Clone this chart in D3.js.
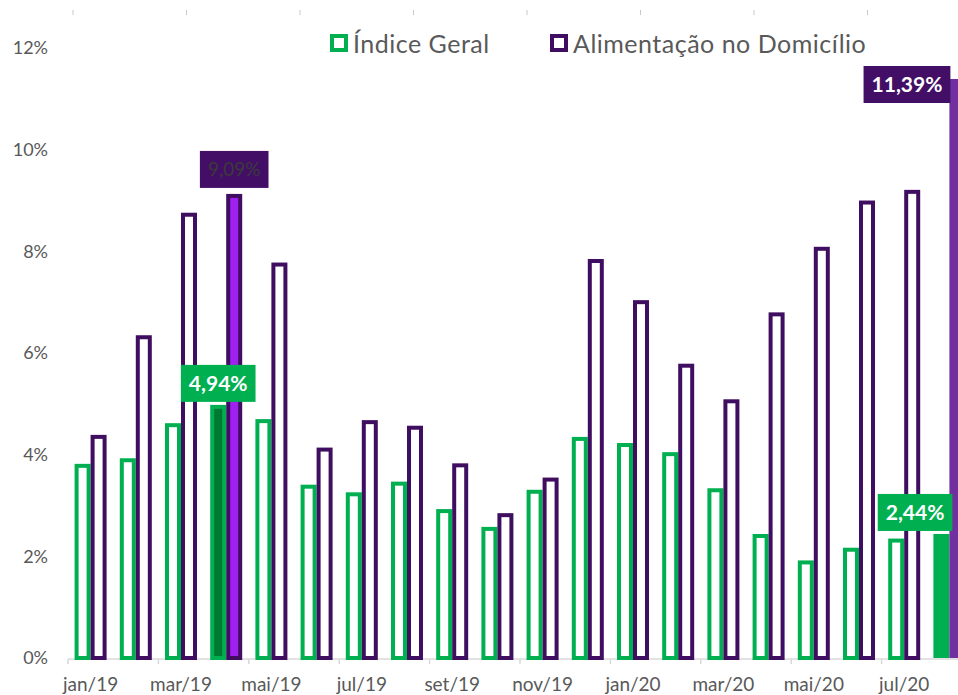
<!DOCTYPE html>
<html><head><meta charset="utf-8">
<script src="https://cdn.jsdelivr.net/npm/d3@7"></script>
<style>body{margin:0;background:#fff;overflow:hidden} svg{display:block}</style>
</head><body>
<svg id="chart" width="958" height="695"></svg>
<script>
const months = ["jan/19","fev/19","mar/19","abr/19","mai/19","jun/19","jul/19","ago/19","set/19","out/19","nov/19","dez/19",
                "jan/20","fev/20","mar/20","abr/20","mai/20","jun/20","jul/20","ago/20"];
const geral = [3.78,3.89,4.58,4.94,4.66,3.37,3.22,3.43,2.89,2.54,3.27,4.31,4.19,4.01,3.30,2.40,1.88,2.13,2.31,2.44];
const alimentacao = [4.35,6.31,8.72,9.09,7.74,4.10,4.64,4.53,3.79,2.81,3.51,7.81,7.00,5.75,5.05,6.76,8.05,8.96,9.17,11.39];
const seriesNames = ["Índice Geral","Alimentação no Domicílio"];
const yTicks = [0,2,4,6,8,10,12];
const topTicks = [0,1,2,3,4,5,6,7,8];

const GREEN = "#00B050", PURPLE = "#400E60";
const svg = d3.select("#chart");
const font = "Lato, 'Open Sans', sans-serif";
const fmt = v => d3.format(".2f")(v).replace(".", ",") + "%";

const x = d3.scaleBand().domain(months).range([68, 972]).paddingInner(0.292).paddingOuter(0.146);
const xs = d3.scaleBand().domain(seriesNames).range([0, x.bandwidth()]);
const y = d3.scaleLinear().domain([0, 12]).range([658, 48]);
const xCat = d3.scaleBand().domain(months).range([68, 972]);
const xTop = d3.scaleLinear().domain([0, 8]).range([73, 981]);

// top decorative ticks
svg.append("g").selectAll("line").data(topTicks).join("line")
  .attr("x1", d => xTop(d)).attr("x2", d => xTop(d)).attr("y1", 10).attr("y2", 15)
  .attr("stroke", "#C8C8C8").attr("stroke-width", 1);

// y axis labels
svg.append("g").selectAll("text").data(yTicks).join("text")
  .attr("x", 48).attr("y", d => y(d)).attr("dy", "0.35em")
  .attr("text-anchor", "end").attr("font-family", font).attr("font-size", 18)
  .attr("fill", "#595959").text(d => d + "%");

// x axis
const axisY = 659;
svg.append("line").attr("x1", 68).attr("x2", 972).attr("y1", axisY).attr("y2", axisY)
  .attr("stroke", "#D9D9D9").attr("stroke-width", 1.5);
svg.append("g").selectAll("line").data(months.filter((d, i) => i % 2 === 0).concat(["__end"])).join("line")
  .attr("x1", d => d === "__end" ? 972 : xCat(d)).attr("x2", d => d === "__end" ? 972 : xCat(d))
  .attr("y1", axisY).attr("y2", axisY + 5).attr("stroke", "#D9D9D9").attr("stroke-width", 1.5);
svg.append("g").selectAll("text").data(months.filter((d, i) => i % 2 === 0)).join("text")
  .attr("x", d => xCat(d) + xCat.bandwidth() / 2).attr("y", 691)
  .attr("text-anchor", "middle").attr("font-family", font).attr("font-size", 19)
  .attr("fill", "#595959").text(d => d);

// bars
const rows = months.map((m, i) => ({m, i, vals: [geral[i], alimentacao[i]]}));
const last = months.length - 1;
const special = 3;
const g = svg.append("g");
rows.forEach(r => {
  r.vals.forEach((v, s) => {
    const bx = x(r.m) + xs(seriesNames[s]);
    const bw = xs.bandwidth();
    if (r.i === last) {
      g.append("rect").attr("x", bx).attr("width", bw).attr("y", y(v)).attr("height", y(0) - y(v))
        .attr("fill", s === 0 ? GREEN : "#7030A0");
    } else {
      let fill = "#fff";
      if (r.i === special) fill = s === 0 ? "#007A33" : "#A020F0";
      g.append("rect").attr("x", bx + 2).attr("width", bw - 4).attr("y", y(v)).attr("height", y(0) - y(v))
        .attr("fill", fill).attr("stroke", s === 0 ? GREEN : PURPLE).attr("stroke-width", 4);
    }
  });
});

// data label boxes
function labelBox(cx, anchor, yBottom, txt, bg, color, weight, size) {
  const grp = svg.append("g");
  const t = grp.append("text").attr("font-family", font).attr("font-size", size)
    .attr("font-weight", weight).attr("fill", color).text(txt);
  const w = t.node().getComputedTextLength() + 16, h = 37;
  let left = anchor === "middle" ? cx - w / 2 : cx - w;
  grp.insert("rect", "text").attr("x", left).attr("y", yBottom - h).attr("width", w).attr("height", h).attr("fill", bg);
  t.attr("x", left + w / 2).attr("y", yBottom - h / 2).attr("dy", "0.36em").attr("text-anchor", "middle");
}
const gA = x(months[special]) + xs(seriesNames[0]) + xs.bandwidth() / 2;
const pA = x(months[special]) + xs(seriesNames[1]) + xs.bandwidth() / 2;
labelBox(pA, "middle", y(alimentacao[special]) - 8, fmt(alimentacao[special]), "#430F66", "#3A3A3A", "normal", 19);
labelBox(gA, "middle", y(geral[special]) - 5, fmt(geral[special]), GREEN, "#fff", "bold", 21);
const pL = x(months[last]) + xs(seriesNames[1]);
const gL = x(months[last]) + xs(seriesNames[0]) + xs.bandwidth();
labelBox(pL + 1, "end", y(alimentacao[last]) + 24, fmt(alimentacao[last]), "#430F66", "#fff", "bold", 21);
labelBox(gL + 3, "end", y(geral[last]) - 3, fmt(geral[last]), GREEN, "#fff", "bold", 21);

// legend
const leg = svg.append("g");
const legItems = [{name: seriesNames[0], c: GREEN, x: 330}, {name: seriesNames[1], c: PURPLE, x: 550}];
legItems.forEach(it => {
  leg.append("rect").attr("x", it.x + 2).attr("y", 36).attr("width", 14).attr("height", 14)
    .attr("fill", "#fff").attr("stroke", it.c).attr("stroke-width", 4);
  leg.append("text").attr("x", it.x + 23).attr("y", 44).attr("dy", "0.35em")
    .attr("font-family", font).attr("font-size", 25).attr("letter-spacing", 0.5)
    .attr("fill", "#595959").text(it.name);
});
</script>
</body></html>
